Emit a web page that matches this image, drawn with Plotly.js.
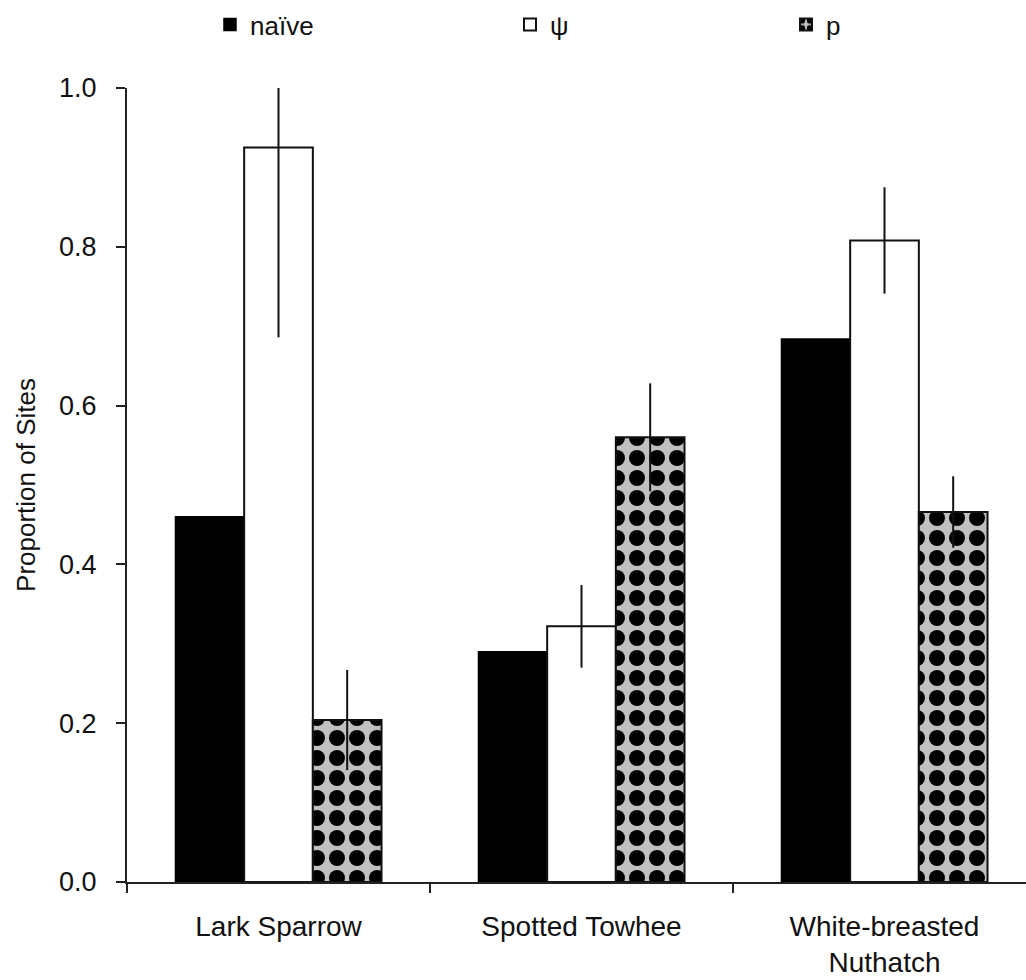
<!DOCTYPE html>
<html>
<head>
<meta charset="utf-8">
<script src="https://cdn.plot.ly/plotly-3.0.1.min.js"></script>
<style>html,body{margin:0;padding:0;background:#fff;}#chart{width:1026px;height:980px;}</style>
</head>
<body>
<div id="chart"></div>
<script>
// Data
const species = ["Lark Sparrow", "Spotted Towhee", "White-breasted<br>Nuthatch"];
const naive = [0.46, 0.29, 0.684];
const psi = [0.925, 0.322, 0.808];
const psiErrUp = [0.08, 0.052, 0.067];
const psiErrDown = [0.239, 0.052, 0.067];
const p = [0.204, 0.56, 0.466];
const pErr = [0.063, 0.068, 0.045];
const seriesNames = ["naïve", "ψ", "p"];
const yTicks = [0, 0.2, 0.4, 0.6, 0.8, 1.0];
const yTickText = ["0.0", "0.2", "0.4", "0.6", "0.8", "1.0"];

const FONT = "Liberation Sans, Arial, sans-serif";
const errStyle = {color: "#111", thickness: 2, width: 0};

const traces = [
  {
    type: "bar", name: seriesNames[0], x: species, y: naive, legend: "legend",
    marker: {color: "#000", line: {color: "#000", width: 1.5}}
  },
  {
    type: "bar", name: seriesNames[1], x: species, y: psi, legend: "legend2",
    marker: {color: "#fff", line: {color: "#111", width: 2}},
    error_y: Object.assign({type: "data", symmetric: false, array: psiErrUp, arrayminus: psiErrDown, visible: true}, errStyle),
    cliponaxis: false
  },
  {
    type: "bar", name: seriesNames[2], x: species, y: p, legend: "legend3",
    marker: {color: "#c0c0c0", line: {color: "#111", width: 2},
      pattern: {shape: ".", fgcolor: "#000", bgcolor: "#c0c0c0", size: 20, solidity: 0.5}},
    error_y: Object.assign({type: "data", symmetric: true, array: pErr, visible: true}, errStyle)
  }
];

function legendAt(xpx) {
  return {
    orientation: "h", xref: "container", yref: "container",
    x: xpx / 1026, y: 1 - 1 / 980, xanchor: "left", yanchor: "top",
    font: {family: FONT, size: 26, color: "#111"},
    bgcolor: "rgba(0,0,0,0)", itemwidth: 30
  };
}

const layout = {
  width: 1026, height: 980,
  margin: {l: 127, r: 0, t: 88, b: 98},
  paper_bgcolor: "#fff", plot_bgcolor: "#fff",
  font: {family: FONT, color: "#111", size: 22},
  barmode: "group", bargap: 0.32, bargroupgap: 0,
  showlegend: true,
  legend: legendAt(210),
  legend2: legendAt(510),
  legend3: legendAt(786),
  xaxis: {
    type: "category", range: [-0.5, 2.467],
    showline: true, linecolor: "#222", linewidth: 2,
    ticks: "outside", tickson: "boundaries", ticklen: 9, tickcolor: "#222", tickwidth: 2,
    ticklabelstandoff: 18,
    showgrid: false, zeroline: false,
    tickfont: {family: FONT, size: 28, color: "#111"}
  },
  yaxis: {
    range: [0, 1], tickvals: yTicks, ticktext: yTickText,
    showline: true, linecolor: "#222", linewidth: 2,
    ticks: "outside", ticklen: 9, tickcolor: "#222", tickwidth: 2,
    ticklabelstandoff: 14,
    showgrid: false, zeroline: false,
    tickfont: {family: FONT, size: 27, color: "#111"},
    title: {text: "Proportion of Sites", font: {family: FONT, size: 26, color: "#111"}, standoff: 16}
  }
};

Plotly.newPlot("chart", traces, layout, {displayModeBar: false, staticPlot: true});
</script>
</body>
</html>
